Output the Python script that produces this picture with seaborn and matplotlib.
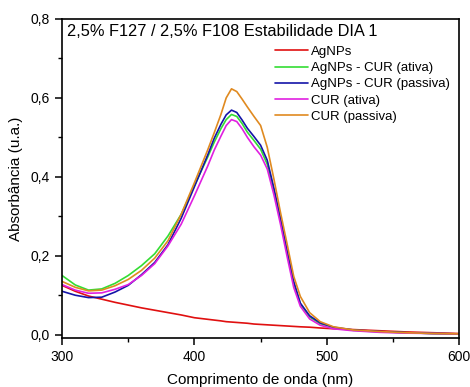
import numpy as np
import pandas as pd
import seaborn as sns
import matplotlib.pyplot as plt
from matplotlib.ticker import MultipleLocator, FuncFormatter

# --- DATA ---
WAVELENGTH = [300, 310, 320, 330, 340, 350, 360, 370, 380, 390, 400, 410, 415, 420, 424,
              428, 432, 436, 440, 445, 450, 455, 460, 465, 470, 475, 480, 487, 495, 505,
              520, 540, 560, 580, 600]

AGNPS = [0.125, 0.110, 0.098, 0.090, 0.082, 0.075, 0.068, 0.062, 0.056, 0.050, 0.043, 0.039,
         0.037, 0.035, 0.033, 0.032, 0.031, 0.030, 0.029, 0.027, 0.026, 0.025, 0.024, 0.023,
         0.022, 0.021, 0.020, 0.019, 0.017, 0.015, 0.013, 0.010, 0.007, 0.005, 0.003]

AGNPS_CUR_ATIVA = [0.150, 0.126, 0.113, 0.116, 0.130, 0.150, 0.175, 0.205, 0.250, 0.305,
                   0.378, 0.450, 0.488, 0.522, 0.545, 0.558, 0.553, 0.535, 0.513, 0.492,
                   0.470, 0.432, 0.365, 0.290, 0.208, 0.130, 0.078, 0.045, 0.028, 0.018,
                   0.011, 0.007, 0.005, 0.003, 0.002]

AGNPS_CUR_PASSIVA = [0.110, 0.100, 0.094, 0.095, 0.108, 0.125, 0.152, 0.183, 0.228, 0.295,
                     0.375, 0.455, 0.498, 0.533, 0.557, 0.569, 0.563, 0.544, 0.523, 0.502,
                     0.480, 0.442, 0.372, 0.295, 0.213, 0.135, 0.080, 0.048, 0.030, 0.019,
                     0.012, 0.008, 0.005, 0.003, 0.002]

CUR_ATIVA = [0.127, 0.113, 0.105, 0.106, 0.115, 0.127, 0.150, 0.180, 0.225, 0.280, 0.352,
             0.427, 0.468, 0.503, 0.530, 0.545, 0.540, 0.522, 0.500, 0.476, 0.455, 0.420,
             0.355, 0.280, 0.198, 0.120, 0.072, 0.040, 0.024, 0.015, 0.010, 0.006, 0.004,
             0.003, 0.002]

CUR_PASSIVA = [0.135, 0.120, 0.111, 0.113, 0.124, 0.140, 0.163, 0.194, 0.238, 0.305, 0.385,
               0.468, 0.512, 0.558, 0.600, 0.623, 0.616, 0.597, 0.577, 0.553, 0.530, 0.475,
               0.395, 0.310, 0.230, 0.148, 0.097, 0.056, 0.033, 0.020, 0.012, 0.008, 0.005,
               0.003, 0.002]

SERIES = {
    "AgNPs": AGNPS,
    "AgNPs - CUR (ativa)": AGNPS_CUR_ATIVA,
    "AgNPs - CUR (passiva)": AGNPS_CUR_PASSIVA,
    "CUR (ativa)": CUR_ATIVA,
    "CUR (passiva)": CUR_PASSIVA,
}
PALETTE = {
    "AgNPs": "#e01010",
    "AgNPs - CUR (ativa)": "#33dd33",
    "AgNPs - CUR (passiva)": "#1414a8",
    "CUR (ativa)": "#e020e0",
    "CUR (passiva)": "#e08a20",
}

rows = []
for name, vals in SERIES.items():
    for wl, v in zip(WAVELENGTH, vals):
        rows.append({"wl": wl, "abs": v, "Amostra": name})
df = pd.DataFrame(rows)

sns.set_theme(style="ticks")
plt.rcParams['font.family'] = ['Liberation Sans', 'DejaVu Sans']
plt.rcParams['text.color'] = 'black'
plt.rcParams['axes.labelcolor'] = 'black'

fig = plt.figure(figsize=(4.7, 3.87), dpi=100)
ax = fig.add_axes([0.132, 0.127, 0.845, 0.824])

sns.lineplot(data=df, x="wl", y="abs", hue="Amostra", palette=PALETTE,
             linewidth=1.2, ax=ax, legend=True)

ax.set_xlim(300, 600)
ax.set_ylim(-0.008, 0.8)
ax.xaxis.set_major_locator(MultipleLocator(100))
ax.xaxis.set_minor_locator(MultipleLocator(50))
ax.yaxis.set_major_locator(MultipleLocator(0.2))
ax.yaxis.set_minor_locator(MultipleLocator(0.1))
ax.yaxis.set_major_formatter(FuncFormatter(lambda v, p: f"{v:.1f}".replace(".", ",")))

for s in ax.spines.values():
    s.set_visible(True)
    s.set_linewidth(1.2)
    s.set_color("black")
ax.tick_params(which="major", direction="out", length=5, width=1.1, labelsize=10,
               colors="black")
ax.tick_params(which="minor", direction="out", length=3, width=1.0, colors="black")

ax.set_xlabel("Comprimento de onda (nm)", fontsize=11, labelpad=7)
ax.set_ylabel("Absorbância (u.a.)", fontsize=11, labelpad=6)

ax.text(0.012, 0.985, "2,5% F127 / 2,5% F108 Estabilidade DIA 1", transform=ax.transAxes,
        ha="left", va="top", fontsize=11.8)

leg = ax.legend(loc="upper right", bbox_to_anchor=(1.0, 0.945), frameon=False, fontsize=9.5,
                handlelength=2.5, handletextpad=0.2, labelspacing=0.3, borderaxespad=0.3)
for line in leg.get_lines():
    line.set_linewidth(1.2)

plt.savefig("out.png", dpi=100)
